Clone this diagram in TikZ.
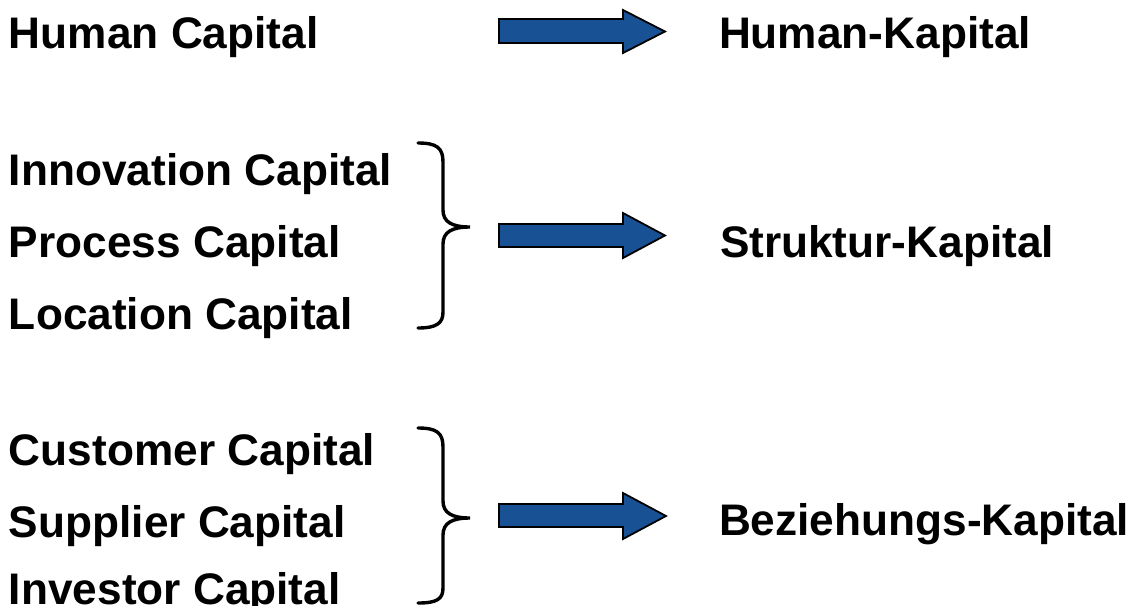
\documentclass[tikz,border=0pt]{standalone}
\usepackage{fontspec}
\setmainfont{Liberation Sans}
\definecolor{arrowblue}{RGB}{24,82,148}
\begin{document}
\begin{tikzpicture}[x=0.5pt,y=-0.5pt,
  lbl/.style={anchor=base west,inner sep=0pt,outer sep=0pt,font=\fontsize{22.1pt}{26pt}\selectfont\bfseries},
  fatarrow/.style={fill=arrowblue,draw=black,line width=0.9pt,line join=miter},
  bracepath/.style={draw=black,line width=1.7pt,line cap=round}]
\useasboundingbox (0,0) rectangle (1132,606);
% left column
\node[lbl] (hc) at (9,48) {Human Capital};
\node[lbl] (ic) at (9,185) {Innovation Capital};
\node[lbl] (pc) at (9,257) {Process Capital};
\node[lbl] (lc) at (9,329) {Location Capital};
\node[lbl] (cc) at (9,465) {Customer Capital};
\node[lbl] (sc) at (9,537) {Supplier Capital};
\node[lbl] (ivc) at (9,604) {Investor Capital};
% right column
\node[lbl] (hk) at (719,48) {Human-Kapital};
\node[lbl] (sk) at (720,257) {Struktur-Kapital};
\node[lbl] (bk) at (719,535) {Beziehungs-Kapital};
% braces
\draw[bracepath] (418,143) .. controls (437,143) and (443,148) .. (443,162)
  -- (443,210) .. controls (443,222) and (452,227) .. (470,227)
  .. controls (452,227) and (443,232) .. (443,244)
  -- (443,312) .. controls (443,323) and (437,328) .. (418,328);
\draw[bracepath] (418,428) .. controls (437,428) and (443,433) .. (443,447)
  -- (443,501) .. controls (443,513) and (452,518) .. (470,518)
  .. controls (452,518) and (443,523) .. (443,535)
  -- (443,588) .. controls (443,599) and (437,603) .. (418,603);
% arrows
\draw[fatarrow] (499,19) -- (623,19) -- (623,10) -- (665,31.5) -- (623,53) -- (623,43) -- (499,43) -- cycle;
\draw[fatarrow] (499,224) -- (623,224) -- (623,213) -- (665,235.5) -- (623,258) -- (623,247) -- (499,247) -- cycle;
\draw[fatarrow] (499,504) -- (623,504) -- (623,493) -- (666,516) -- (623,539) -- (623,527) -- (499,527) -- cycle;
\end{tikzpicture}
\end{document}
